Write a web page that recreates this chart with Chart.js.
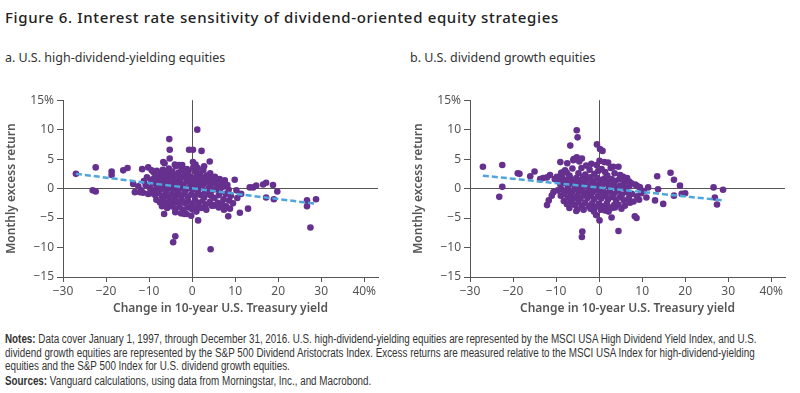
<!DOCTYPE html>
<html>
<head>
<meta charset="utf-8">
<script src="https://cdn.jsdelivr.net/npm/chart.js@4"></script>
<style>
  body { margin: 0; background: #fff; width: 800px; height: 393px; position: relative; overflow: hidden; font-family: "Noto Sans", sans-serif; }
  #title { position: absolute; left: 5px; top: 7px; font-family: "Noto Sans", sans-serif; font-size: 15px; font-weight: 500; letter-spacing: 0.65px; color: #222; }
  .sub { position: absolute; top: 49px; font-size: 12.5px; color: #333; }
  .plot { position: absolute; top: 90px; }
  .note { position: absolute; left: 5px; font-family: "Liberation Sans", Arial, sans-serif; font-size: 12px; color: #333; white-space: nowrap; transform: scaleX(0.82); transform-origin: left center; }
  .note b { font-weight: 700; }
</style>
</head>
<body>
<div id="title">Figure 6. Interest rate sensitivity of dividend-oriented equity strategies</div>
<div class="sub" style="left:5px">a. U.S. high-dividend-yielding equities</div>
<div class="sub" style="left:410px">b. U.S. dividend growth equities</div>
<canvas id="chartA" class="plot" width="395" height="230" style="left:0px"></canvas>
<canvas id="chartB" class="plot" width="395" height="230" style="left:407px"></canvas>
<div class="note" style="top:332px"><b>Notes:</b> Data cover January 1, 1997, through December 31, 2016. U.S. high-dividend-yielding equities are represented by the MSCI USA High Dividend Yield Index, and U.S.</div>
<div class="note" style="top:346px">dividend growth equities are represented by the S&amp;P 500 Dividend Aristocrats Index. Excess returns are measured relative to the MSCI USA Index for high-dividend-yielding</div>
<div class="note" style="top:359px">equities and the S&amp;P 500 Index for U.S. dividend growth equities.</div>
<div class="note" style="top:374px"><b>Sources:</b> Vanguard calculations, using data from Morningstar, Inc., and Macrobond.</div>
<script>
// tick values shared by both panels
const xTicks = [-30, -20, -10, 0, 10, 20, 30, 40];
const yTicks = [-15, -10, -5, 0, 5, 10, 15];

// a. high-dividend-yielding: [change in 10y yield %, monthly excess return %]
const hdyPoints = [
  [-27.0, 2.5], [-22.4, 3.6], [-23.1, -0.3], [-22.4, -0.5], [-18.7, 2.9], [-18.7, 2.3],
  [-16.0, 3.1], [-15.0, 3.5], [-13.7, 0.8], [-13.3, -0.6], [-12.1, -0.6], [-11.4, -0.7],
  [-11.6, 3.3], [-10.2, 3.6], [-9.4, 3.1], [-12.5, 0.4], [-10.8, 0.6], [-11.8, -0.3], [-10.2, -0.9],
  [-5.3, 8.4], [-5.2, 6.6], [-5.2, 5.1], [-6.7, 4.5], [-6.5, -4.3], [-3.9, -4.0],
  [-3.9, -8.1], [-4.4, -9.1], [-4.0, 4.1], [-0.7, 6.6], [0.2, 6.6], [1.2, 10.0],
  [2.2, 6.4], [4.1, 4.6], [0.2, 4.5], [0.8, 4.1], [-1.3, -4.3], [-0.2, -4.6], [1.4, -5.4],
  [1.0, -3.9], [4.3, -10.3], [5.0, -2.9], [9.9, 1.5], [11.1, -4.1], [8.4, -4.7], [13.0, -3.4],
  [13.4, 0.2], [14.2, 0.2], [14.9, 0.5], [16.5, 0.7], [17.2, 1.0], [17.2, -1.5], [18.8, 0.6],
  [19.0, -1.8], [19.8, -0.5], [10.3, -0.3], [11.4, -0.9], [26.7, -2.0], [26.7, -3.0],
  [27.5, -6.6], [28.8, -1.8],
  [-9.0, 2.8], [-8.2, 3.0], [-7.5, 2.4], [-6.8, 3.2], [-6.0, 2.6], [-5.4, 3.4], [-4.6, 2.9],
  [-3.8, 3.8], [-3.2, 2.7], [-2.5, 3.1], [-1.6, 2.4], [-0.8, 3.0], [0.3, 3.6], [0.9, 2.8],
  [1.8, 2.5], [2.6, 3.1], [3.4, 2.2], [4.2, 2.6], [5.3, 2.0], [6.4, 1.6], [7.6, 1.4],
  [-10.5, 1.9], [-11.2, 1.3], [-9.6, 1.5],
  [-8.8, 1.8], [-8.0, 2.1], [-7.2, 1.6], [-6.5, 2.0], [-5.8, 1.7], [-5.0, 2.2], [-4.3, 1.9],
  [-3.6, 2.3], [-2.9, 1.8], [-2.1, 2.0], [-1.3, 1.6], [-0.5, 2.1], [0.2, 1.8], [1.0, 2.0],
  [1.6, 1.5], [2.3, 1.9], [3.1, 1.6], [3.9, 1.8], [4.7, 1.3], [5.6, 1.5], [6.8, 0.9], [8.2, 0.6], [-3.0, 4.0],
  [-9.2, 0.9], [-8.5, 1.2], [-7.7, 0.8], [-7.0, 1.1], [-6.3, 0.7], [-5.6, 1.2], [-4.9, 0.9],
  [-4.2, 1.3], [-3.5, 0.8], [-2.8, 1.1], [-2.0, 0.7], [-1.2, 1.2], [-0.4, 0.9], [0.4, 1.1],
  [1.2, 0.6], [1.9, 1.0], [2.7, 0.8], [3.5, 1.1], [4.3, 0.6], [5.1, 0.9], [6.0, 0.5], [7.2, 0.3], [8.5, -0.2],
  [-9.8, 0.1], [-8.9, -0.2], [-8.1, 0.3], [-7.3, -0.1], [-6.6, 0.2], [-5.9, -0.3], [-5.1, 0.1],
  [-4.4, -0.2], [-3.7, 0.3], [-3.0, -0.1], [-2.3, 0.2], [-1.5, -0.3], [-0.7, 0.1], [0.1, -0.2],
  [0.8, 0.3], [1.5, -0.1], [2.2, 0.2], [3.0, -0.4], [3.8, 0.0], [4.6, -0.3], [5.5, -0.1],
  [6.5, -0.6], [7.8, -0.9], [9.0, -1.2],
  [-9.5, -0.8], [-8.6, -1.1], [-7.8, -0.7], [-7.0, -1.3], [-6.2, -0.9], [-5.5, -1.4], [-4.7, -1.0],
  [-4.0, -1.5], [-3.3, -0.8], [-2.6, -1.2], [-1.8, -0.9], [-1.0, -1.4], [-0.2, -1.0], [0.6, -1.3],
  [1.3, -0.8], [2.0, -1.1], [2.8, -1.5], [3.6, -0.9], [4.4, -1.2], [5.2, -1.6], [6.2, -1.1],
  [7.3, -1.8], [8.6, -2.0], [10.5, -1.6],
  [-8.3, -1.9], [-7.5, -2.3], [-6.7, -1.8], [-6.0, -2.5], [-5.2, -2.1], [-4.5, -2.6], [-3.8, -2.0],
  [-3.1, -2.4], [-2.4, -1.9], [-1.6, -2.5], [-0.9, -2.1], [-0.1, -2.6], [0.7, -2.0], [1.5, -2.4],
  [2.4, -2.2], [3.2, -2.7], [4.1, -2.3], [5.0, -2.8], [6.0, -2.4], [7.0, -2.6], [7.9, -3.0],
  [8.8, -3.4], [9.5, -2.5],
  [-7.0, -3.0], [-5.8, -3.3], [-4.8, -3.0], [-3.9, -3.4], [-2.9, -3.1], [-2.0, -3.6], [-1.0, -3.2],
  [0.0, -3.5], [1.1, -3.1], [2.1, -3.3], [3.3, -3.6], [4.6, -2.9], [-2.6, -4.2], [-1.8, -4.3],
  [6.2, -3.2], [7.4, -3.6],
  [-6.4, 4.3], [-2.3, 4.0], [0.5, 3.9], [1.3, 3.5], [2.8, 3.8], [-1.2, 3.3]
];
const hdyTrend = [[-27, 2.5], [29, -2.6]];

// b. dividend growth
const dgPoints = [
  [-27.0, 3.7], [-22.5, 4.0], [-22.5, 0.3], [-23.2, -1.4], [-18.9, 2.6], [-18.5, 2.5],
  [-16.0, 2.1], [-15.0, 2.9], [-13.7, 1.6], [-13.0, 1.8], [-12.1, 1.9], [-11.4, 2.3],
  [-12.1, -2.8], [-11.7, -2.0], [-11.0, -1.2], [-10.6, -0.6], [-9.0, 4.5], [-8.3, 2.8], [-7.5, 2.7],
  [-6.7, 7.3], [-5.2, 9.9], [-5.0, 8.7], [-5.9, 5.0], [-5.2, 5.3], [-4.0, 5.1],
  [-7.5, -2.6], [-6.7, -2.4], [-5.3, -3.8], [-3.9, -7.3], [-4.0, -8.2],
  [-0.5, 7.5], [0.2, 6.7], [0.8, 6.4], [1.2, 4.5], [0.1, 4.7], [-0.2, 3.0], [1.4, 2.8],
  [3.3, 3.7], [4.5, 3.7], [-0.7, -4.5], [0.1, -5.4], [1.4, -3.7], [1.9, -3.4], [2.9, -4.9],
  [4.5, -7.2], [3.7, -3.2], [8.3, -4.7], [8.7, -5.0], [4.9, 2.3], [7.0, 1.2], [8.7, 0.5],
  [9.5, 0.2], [11.4, 0.2], [13.0, -2.0], [13.5, 2.1], [13.7, -0.1], [14.9, -2.6], [16.6, 2.7],
  [17.4, 1.5], [17.4, -1.2], [18.8, 0.5], [19.2, -0.9], [20.0, -0.8], [26.6, 0.2], [26.9, -1.5],
  [27.4, -2.7], [28.8, -0.2],
  [-8.8, 2.7], [-7.9, 3.1], [-6.9, 2.2], [-6.2, 3.4], [-4.8, 2.6], [-4.1, 3.5], [-3.2, 2.4],
  [-2.2, 3.2], [-1.1, 2.5], [0.6, 3.3], [1.9, 2.2], [2.7, 3.5], [3.6, 2.6], [5.6, 2.0], [6.5, 1.8],
  [-9.8, 2.0], [-10.3, 1.6],
  [-9.4, 1.4], [-8.6, 1.9], [-7.6, 1.5], [-6.8, 1.9], [-6.0, 1.3], [-5.3, 1.8], [-4.5, 1.4],
  [-3.7, 2.0], [-2.9, 1.5], [-2.0, 1.9], [-1.3, 1.3], [-0.4, 1.8], [0.3, 1.4], [1.2, 1.7],
  [2.0, 1.2], [2.9, 1.6], [3.8, 1.3], [4.7, 1.6], [5.9, 1.1], [7.5, 0.9], [8.4, 0.7],
  [-9.0, 0.7], [-8.2, 1.0], [-7.3, 0.5], [-6.5, 0.9], [-5.7, 0.4], [-4.9, 0.8], [-4.2, 0.3],
  [-3.4, 0.9], [-2.6, 0.4], [-1.8, 0.8], [-1.0, 0.3], [-0.2, 0.7], [0.7, 0.4], [1.5, 0.9],
  [2.3, 0.3], [3.2, 0.6], [4.1, 0.2], [5.0, 0.5], [6.1, 0.1], [7.0, 0.4], [9.2, 0.3], [10.4, -0.4],
  [-9.6, -0.3], [-8.7, -0.1], [-7.9, -0.5], [-7.1, -0.2], [-6.3, -0.6], [-5.5, -0.1], [-4.7, -0.5],
  [-3.9, -0.2], [-3.1, -0.7], [-2.3, -0.3], [-1.5, -0.6], [-0.7, -0.2], [0.1, -0.7], [0.9, -0.3],
  [1.7, -0.8], [2.5, -0.4], [3.4, -0.9], [4.3, -0.5], [5.3, -1.0], [6.4, -0.6], [7.6, -0.9],
  [8.8, -1.3], [9.8, -0.8], [11.0, -1.5],
  [-8.9, -1.2], [-8.1, -0.9], [-7.3, -1.5], [-6.6, -1.1], [-5.8, -1.6], [-5.0, -1.2], [-4.3, -1.7],
  [-3.5, -1.1], [-2.7, -1.6], [-1.9, -1.2], [-1.1, -1.8], [-0.3, -1.3], [0.5, -1.7], [1.3, -1.2],
  [2.1, -1.8], [3.0, -1.4], [3.9, -1.9], [4.8, -1.5], [5.8, -2.0], [6.9, -1.6], [8.0, -2.2], [9.3, -1.9],
  [-8.2, -2.1], [-7.4, -2.6], [-6.4, -2.2], [-5.6, -2.8], [-4.8, -2.3], [-4.0, -2.9], [-3.2, -2.4],
  [-2.4, -3.0], [-1.6, -2.5], [-0.8, -3.1], [0.0, -2.6], [0.9, -3.0], [1.8, -2.5], [2.6, -3.2],
  [3.5, -2.8], [4.5, -2.7], [6.0, -2.9], [7.2, -2.4],
  [-6.9, -3.3], [-5.0, -3.5], [-3.6, -3.6], [-2.0, -3.4], [-1.2, -3.9], [0.4, -3.6], [2.2, -3.9],
  [3.0, -3.3], [5.2, -3.4],
  [-7.4, 4.3], [-6.0, 4.8], [-3.0, 3.9], [-1.8, 4.2], [-0.6, 4.0], [2.1, 4.4], [-4.6, 4.6]
];
const dgTrend = [[-27, 2.2], [29, -2.0]];

const dotColor = "#66308f";
const trendColor = "#4ea6dc";
const axisColor = "#555";

function fmt(v, pctAt) {
  const s = v < 0 ? "\u2212" + Math.abs(v) : String(v);
  return v === pctAt ? s + "%" : s;
}

function makeChart(id, points, trend) {
  const ctx = document.getElementById(id).getContext("2d");
  return new Chart(ctx, {
    type: "scatter",
    data: {
      datasets: [
        {
          data: points.map((p) => ({ x: p[0], y: p[1] })),
          backgroundColor: dotColor,
          borderWidth: 0,
          pointRadius: 3.3,
          order: 2,
        },
        {
          type: "line",
          data: trend.map((p) => ({ x: p[0], y: p[1] })),
          borderColor: trendColor,
          borderWidth: 2.5,
          borderDash: [6, 3],
          pointRadius: 0,
          fill: false,
          order: 1,
        },
      ],
    },
    options: {
      responsive: false,
      animation: false,
      layout: { padding: { top: 10, right: 17, left: 0, bottom: 0 } },
      plugins: { legend: { display: false }, tooltip: { enabled: false } },
      scales: {
        x: {
          type: "linear",
          min: -30,
          max: 43.2,
          afterBuildTicks: (s) => { s.ticks = xTicks.map((v) => ({ value: v })); },
          afterFit: (s) => { s.height = 43; },
          border: { color: axisColor, width: 1 },
          grid: {
            color: (c) => (c.tick && c.tick.value === 0 ? axisColor : "transparent"),
            tickColor: axisColor,
            tickLength: 5,
          },
          ticks: {
            color: "#555",
            padding: 2,
            font: { family: "Noto Sans", size: 12 },
            callback: (v) => fmt(v, 40),
          },
          title: {
            display: true,
            text: "Change in 10-year U.S. Treasury yield",
            color: "#555",
            font: { family: "Noto Sans", size: 12, weight: "600" },
          },
        },
        y: {
          min: -15,
          max: 15,
          afterBuildTicks: (s) => { s.ticks = yTicks.map((v) => ({ value: v })); },
          afterFit: (s) => { s.width = 63; },
          border: { color: axisColor, width: 1 },
          grid: {
            color: (c) => (c.tick && c.tick.value === 0 ? axisColor : "transparent"),
            tickColor: axisColor,
            tickLength: 6,
          },
          ticks: {
            color: "#555",
            padding: 3,
            font: { family: "Noto Sans", size: 12 },
            callback: (v) => fmt(v, 15),
          },
          title: {
            display: true,
            text: "Monthly excess return",
            color: "#555",
            font: { family: "Noto Sans", size: 12, weight: "600" },
          },
        },
      },
    },
  });
}

makeChart("chartA", hdyPoints, hdyTrend);
makeChart("chartB", dgPoints, dgTrend);
</script>
</body>
</html>
